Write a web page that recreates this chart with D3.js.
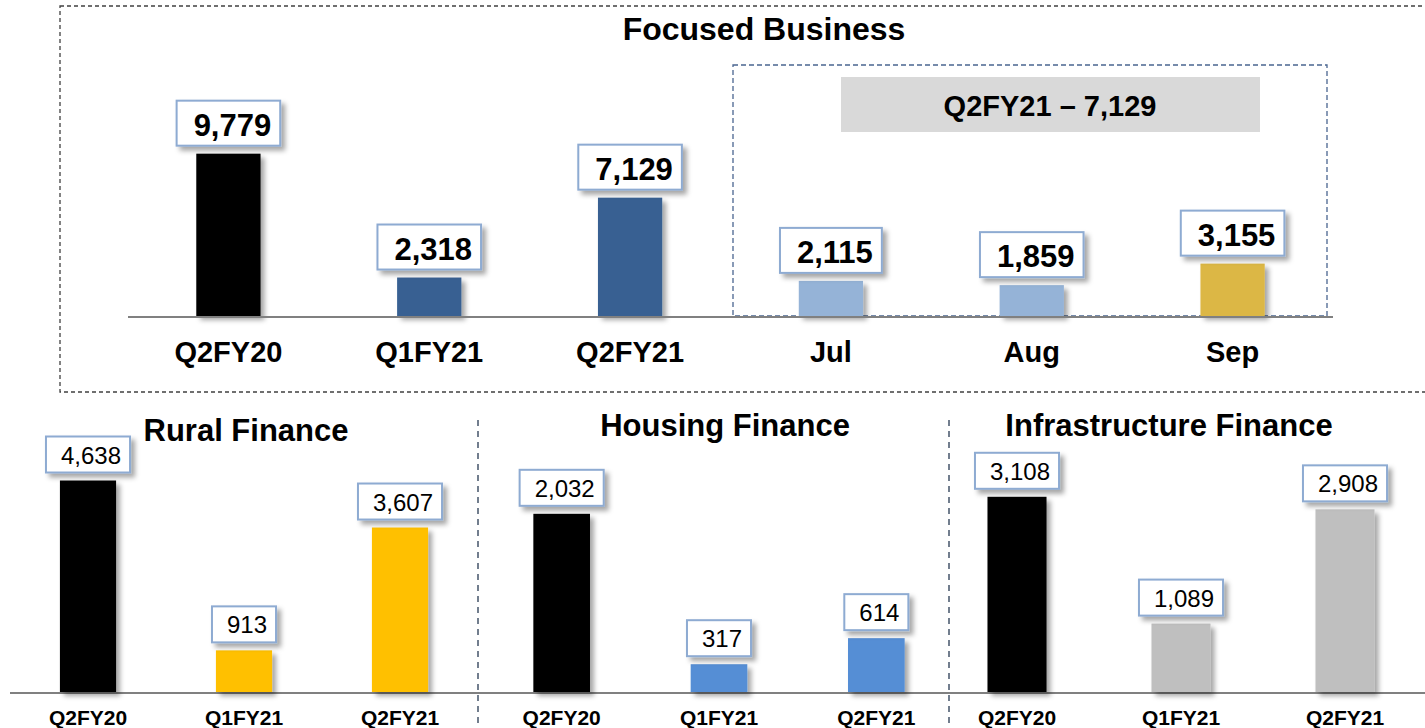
<!DOCTYPE html>
<html>
<head>
<meta charset="utf-8">
<script src="https://cdn.jsdelivr.net/npm/d3@7"></script>
<style>
  body { margin: 0; background: #fff; }
  svg { display: block; font-family: Arial, "Liberation Sans", sans-serif; }
</style>
</head>
<body>
<div id="chart"></div>
<script>
/* Disbursements by business. */
let topCategories = ["Q2FY20", "Q1FY21", "Q2FY21", "Jul", "Aug", "Sep"];
let topValues = [9779, 2318, 7129, 2115, 1859, 3155];
let topColors = ["#000000", "#376092", "#376092", "#95b3d7", "#95b3d7", "#dcb745"];
let topTitle = "Focused Business";
let monthTotalLabel = "Q2FY21 \u2013 7,129";

let panelTitles = ["Rural Finance", "Housing Finance", "Infrastructure Finance"];
let panelCategories = ["Q2FY20", "Q1FY21", "Q2FY21"];
let ruralValues = [4638, 913, 3607];
let housingValues = [2032, 317, 614];
let infraValues = [3108, 1089, 2908];
let panelColors = [
    ["#000000", "#ffc000", "#ffc000"],
    ["#000000", "#558ed5", "#558ed5"],
    ["#000000", "#bfbfbf", "#bfbfbf"]
];
/* Each small panel has its own value axis. */
let panelAxisMax = [5000, 2600, 3630];

let width = 1425, height = 728;
let fmt = d3.format(",");

let svg = d3.select("#chart").append("svg")
    .attr("width", width)
    .attr("height", height);

/* Soft drop shadow used under bars and label boxes. */
let filter = svg.append("defs").append("filter")
    .attr("id", "shadow")
    .attr("x", "-20%").attr("y", "-20%")
    .attr("width", "160%").attr("height", "160%");
filter.append("feDropShadow")
    .attr("dx", 4).attr("dy", 4)
    .attr("stdDeviation", 2.5)
    .attr("flood-color", "#000")
    .attr("flood-opacity", 0.35);

/* Draw a white value box with a blue border sitting just above a bar. */
function valueBox(g, cx, barTop, text, opts) {
    let box = g.append("g");
    let rect = box.append("rect")
        .attr("fill", "#fff")
        .attr("stroke", "#8eabd2")
        .attr("stroke-width", 2)
        .attr("filter", "url(#shadow)");
    let t = box.append("text")
        .attr("text-anchor", "middle")
        .attr("font-size", opts.fontSize)
        .attr("font-weight", opts.bold ? "bold" : "normal")
        .attr("fill", "#000")
        .text(text);
    let w = t.node().getComputedTextLength() + opts.pad;
    let bottom = barTop - opts.gap;
    rect.attr("x", cx - w / 2)
        .attr("y", bottom - opts.h)
        .attr("width", w)
        .attr("height", opts.h);
    t.attr("x", cx + opts.shift)
        .attr("y", bottom - opts.baseOff);
}

/*************************/
/* Top: Focused Business */
/*************************/
let topBase = 316;
let xTop = d3.scaleBand()
    .domain(topCategories)
    .range([128, 1333])
    .paddingInner(0.68)
    .paddingOuter(0.34);
let yTop = d3.scaleLinear()
    .domain([0, 10000])
    .range([topBase, topBase - 166]);

/* Outer dashed frame, running off the right edge as on the slide. */
svg.append("rect")
    .attr("x", 60).attr("y", 6)
    .attr("width", 1400).attr("height", 386)
    .attr("fill", "none")
    .attr("stroke", "#404040")
    .attr("stroke-width", 1.3)
    .attr("stroke-dasharray", "4,3");

svg.append("text")
    .attr("x", 764).attr("y", 40)
    .attr("text-anchor", "middle")
    .attr("font-size", 32)
    .attr("font-weight", "bold")
    .text(topTitle);

/* Monthly breakdown frame and header. */
svg.append("rect")
    .attr("x", 733).attr("y", 65)
    .attr("width", 594).attr("height", topBase - 65)
    .attr("fill", "none")
    .attr("stroke", "#4a6590")
    .attr("stroke-width", 1.3)
    .attr("stroke-dasharray", "5,3");
svg.append("rect")
    .attr("x", 841).attr("y", 77)
    .attr("width", 419).attr("height", 55)
    .attr("fill", "#d9d9d9");
svg.append("text")
    .attr("x", 1050).attr("y", 116)
    .attr("text-anchor", "middle")
    .attr("font-size", 29)
    .attr("font-weight", "bold")
    .text(monthTotalLabel);

let topG = svg.append("g");
topG.selectAll("rect.bar")
    .data(topValues)
    .enter()
    .append("rect")
        .attr("class", "bar")
        .attr("x", (d, i) => xTop(topCategories[i]))
        .attr("y", d => yTop(d))
        .attr("width", xTop.bandwidth())
        .attr("height", d => topBase - yTop(d))
        .attr("fill", (d, i) => topColors[i])
        .attr("filter", "url(#shadow)");

topG.append("line")
    .attr("x1", 128).attr("x2", 1333)
    .attr("y1", topBase + 1).attr("y2", topBase + 1)
    .attr("stroke", "#808080")
    .attr("stroke-width", 2);

topCategories.forEach(function(c, i) {
    let cx = xTop(c) + xTop.bandwidth() / 2;
    valueBox(topG, cx, yTop(topValues[i]), fmt(topValues[i]),
        {fontSize: 31, bold: true, pad: 26, h: 45, gap: 8, baseOff: 10, shift: 4});
    topG.append("text")
        .attr("x", cx).attr("y", 362)
        .attr("text-anchor", "middle")
        .attr("font-size", 29)
        .attr("font-weight", "bold")
        .text(c);
});

/***************************/
/* Bottom: the three panels */
/***************************/
let panelBase = 692;
let panelValues = [ruralValues, housingValues, infraValues];
let panelRanges = [[10, 478], [483, 955], [935, 1427]];
let panelTitlePos = [[246, 441], [725, 436], [1169, 436]];

svg.append("line")
    .attr("x1", 10).attr("x2", width)
    .attr("y1", panelBase + 1).attr("y2", panelBase + 1)
    .attr("stroke", "#808080")
    .attr("stroke-width", 2);

[478, 949].forEach(function(sx) {
    svg.append("line")
        .attr("x1", sx).attr("x2", sx)
        .attr("y1", 420).attr("y2", height)
        .attr("stroke", "#44546a")
        .attr("stroke-width", 1.5)
        .attr("stroke-dasharray", "6,5");
});

panelTitles.forEach(function(title, p) {
    let g = svg.append("g");
    let x = d3.scaleBand()
        .domain(panelCategories)
        .range(panelRanges[p])
        .paddingInner(0.64)
        .paddingOuter(0.32);
    let y = d3.scaleLinear()
        .domain([0, panelAxisMax[p]])
        .range([panelBase, panelBase - 228]);

    g.append("text")
        .attr("x", panelTitlePos[p][0]).attr("y", panelTitlePos[p][1])
        .attr("text-anchor", "middle")
        .attr("font-size", 31)
        .attr("font-weight", "bold")
        .text(title);

    g.selectAll("rect.bar")
        .data(panelValues[p])
        .enter()
        .append("rect")
            .attr("class", "bar")
            .attr("x", (d, i) => x(panelCategories[i]))
            .attr("y", d => y(d))
            .attr("width", x.bandwidth())
            .attr("height", d => panelBase - y(d))
            .attr("fill", (d, i) => panelColors[p][i])
            .attr("filter", "url(#shadow)");

    panelCategories.forEach(function(c, i) {
        let cx = x(c) + x.bandwidth() / 2;
        valueBox(g, cx, y(panelValues[p][i]), fmt(panelValues[p][i]),
            {fontSize: 24, bold: false, pad: 24, h: 36, gap: 8, baseOff: 9, shift: 3});
        g.append("text")
            .attr("x", cx).attr("y", 725)
            .attr("text-anchor", "middle")
            .attr("font-size", 21)
            .attr("font-weight", "bold")
            .text(c);
    });
});
</script>
</body>
</html>
